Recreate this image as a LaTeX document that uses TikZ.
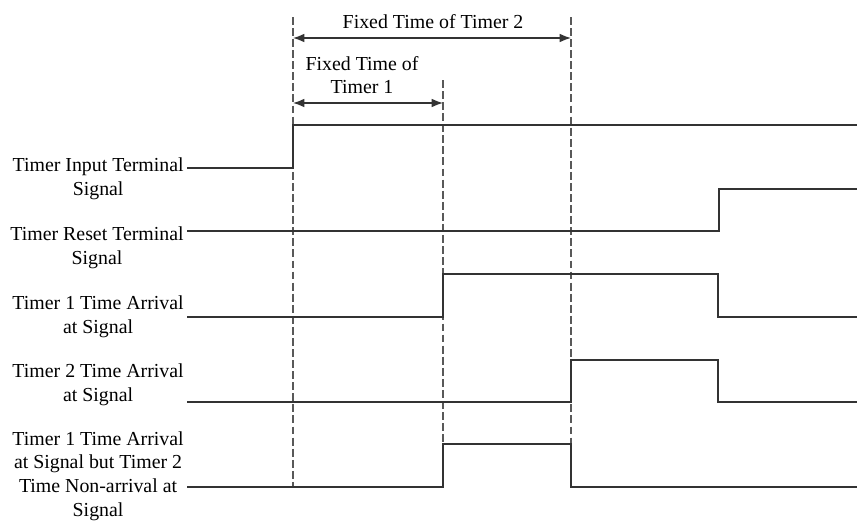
\documentclass[tikz,border=0pt]{standalone}
\usepackage{fontspec}
\setmainfont{Liberation Serif}
\usetikzlibrary{arrows.meta}

\begin{document}
\begin{tikzpicture}[
    x=0.02cm, y=-0.02cm, % one unit per pixel, y grows downwards
    >={Latex[length=6.5pt, width=5pt]}, % Set default arrow tip style
    signal/.style={black!80, line width=0.7pt}, % Style for the waveforms
    guide/.style={black!65, line width=0.6pt, dash pattern=on 4.5pt off 1.8pt}, % Dashed time markers
    span/.style={black!80, line width=0.8pt, <->}, % Style for the time spans
    signame/.style={anchor=east, align=center, inner sep=0pt,
        font=\fontsize{11.3}{13.4}\selectfont}, % Style for signal names
    spanlabel/.style={align=center, inner sep=0pt,
        font=\fontsize{11.3}{13.4}\selectfont} % Style for span labels
]
    \useasboundingbox (0,0) rectangle (857,521);

    % Time instants
    \def\tStart{293} % input rises
    \def\tOne{443}   % timer 1 elapsed
    \def\tTwo{571}   % timer 2 elapsed
    \def\tReset{719} % reset rises

    % Dashed time markers
    \coordinate (startTop) at (\tStart,17);
    \coordinate (oneTop) at (\tOne,80);
    \coordinate (twoTop) at (\tTwo,17);
    \draw[guide] (startTop) -- (\tStart,487);
    \draw[guide] (oneTop) -- (\tOne,487);
    \draw[guide] (twoTop) -- (\tTwo,487);

    % Fixed time spans
    \coordinate (spanTwoL) at (\tStart,38);
    \coordinate (spanTwoR) at (\tTwo,38);
    \coordinate (spanOneL) at (\tStart,103);
    \coordinate (spanOneR) at (\tOne,103);
    \draw[span] (spanTwoL) -- (spanTwoR);
    \draw[span] (spanOneL) -- (spanOneR);
    \node[spanlabel] (spanTwoText) at (433,22) {Fixed Time of Timer 2};
    \node[spanlabel] (spanOneText) at (362,75) {Fixed Time of\\Timer 1};

    % Signal names
    \node[signame] (inputName) at (184,179) {Timer Input Terminal\\Signal};
    \node[signame] (resetName) at (184,248) {Timer Reset Terminal\\Signal};
    \node[signame] (oneName) at (184,317) {Timer 1 Time Arrival\\at Signal};
    \node[signame] (twoName) at (184,385) {Timer 2 Time Arrival\\at Signal};
    \node[signame] (oneNotTwoName) at (184,476)
        {Timer 1 Time Arrival\\at Signal but Timer 2\\Time Non-arrival at\\Signal};

    % Waveforms
    \draw[signal] (187,168) -- (\tStart,168) -- (\tStart,125) -- (857,125);
    \draw[signal] (187,231) -- (\tReset,231) -- (\tReset,189) -- (857,189);
    \draw[signal] (187,317) -- (\tOne,317) -- (\tOne,274) -- (718,274)
        -- (718,317) -- (857,317);
    \draw[signal] (187,402) -- (\tTwo,402) -- (\tTwo,360) -- (718,360)
        -- (718,402) -- (857,402);
    \draw[signal] (187,487) -- (\tOne,487) -- (\tOne,444) -- (\tTwo,444)
        -- (\tTwo,487) -- (857,487);

\end{tikzpicture}
\end{document}
